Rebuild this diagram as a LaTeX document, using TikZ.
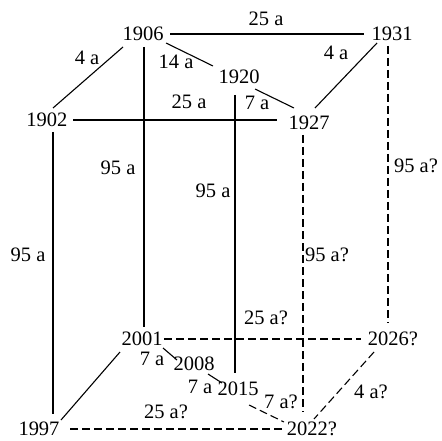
\documentclass[tikz,border=0pt]{standalone}
\usepackage{fontspec}
\setmainfont{Liberation Serif}
\usetikzlibrary{calc}
\begin{document}
\begin{tikzpicture}[x=1pt,y=-1pt,
  yr/.style={font=\fontsize{20.5}{24}\selectfont, inner sep=0pt},
  lb/.style={font=\fontsize{20.5}{24}\selectfont, inner sep=0pt},
  ln/.style={line width=1.1pt},
  dl/.style={line width=1.1pt, dash pattern=on 8pt off 4pt}]
\useasboundingbox (0,0) rectangle (442,441);
% year nodes
\node[yr] (n1906) at (143,34) {1906};
\node[yr] (n1931) at (392,34) {1931};
\node[yr] (n1902) at (47,120) {1902};
\node[yr] (n1920) at (239,77) {1920};
\node[yr] (n1927) at (309,123) {1927};
\node[yr] (n2001) at (142,339) {2001};
\node[yr] (n2008) at (194,364) {2008};
\node[yr] (n2015) at (238,389) {2015};
\node[yr] (n2026) at (393,339) {2026?};
\node[yr] (n1997) at (39,429) {1997};
\node[yr] (n2022) at (312,429) {2022?};
% solid connectors
\draw[ln] ($(n1906.center)+(27,0)$) -- ($(n1931.center)+(-28,0)$);
\draw[ln] ($(n1906.center)+(-20,13)$) -- ($(n1902.center)+(6,-12)$);
\draw[ln] ($(n1906.center)+(23,9)$) -- ($(n1920.center)+(-26,-11)$);
\draw[ln] ($(n1920.center)+(16,12)$) -- ($(n1927.center)+(-15,-15)$);
\draw[ln] ($(n1931.center)+(-15,9)$) -- ($(n1927.center)+(6,-15)$);
\draw[ln] ($(n1902.center)+(26,0)$) -- ($(n1927.center)+(-32,-3)$);
\draw[ln] ($(n1906.center)+(1,13)$) -- ($(n2001.center)+(2,-12)$);
\draw[ln] ($(n1902.center)+(6,12)$) -- ($(n1997.center)+(14,-15)$);
\draw[ln] ($(n1920.center)+(-4,18)$) -- ($(n2015.center)+(-3,-16)$);
\draw[ln] ($(n2001.center)+(21,9)$) -- ($(n2008.center)+(-17,-4)$);
\draw[ln] ($(n2008.center)+(14,10)$) -- ($(n2015.center)+(-16,-6)$);
\draw[ln] ($(n2001.center)+(-22,13)$) -- ($(n1997.center)+(22,-9)$);
% dashed connectors
\draw[dl] ($(n1927.center)+(-6,12)$) -- ($(n2022.center)+(-9,-17)$);
\draw[dl] ($(n1931.center)+(-4,12)$) -- ($(n2026.center)+(-5,-16)$);
\draw[dl] ($(n2001.center)+(22,0)$) -- ($(n2026.center)+(-32,0)$);
\draw[dl] ($(n2015.center)+(11,16)$) -- ($(n2022.center)+(-28,-7)$);
\draw[dl] ($(n2026.center)+(-19,13)$) -- ($(n2022.center)+(2,-10)$);
\draw[dl] ($(n1997.center)+(31,0)$) -- ($(n2022.center)+(-29,0)$);
% labels
\node[lb] (l1) at (266,19) {25 a};
\node[lb] (l2) at (87,58) {4 a};
\node[lb] (l3) at (176,62) {14 a};
\node[lb] (l4) at (336,53) {4 a};
\node[lb] (l5) at (189,102) {25 a};
\node[lb] (l6) at (257,103) {7 a};
\node[lb] (l7) at (118,168) {95 a};
\node[lb] (l8) at (213,191) {95 a};
\node[lb] (l9) at (28,255) {95 a};
\node[lb] (l10) at (327,255) {95 a?};
\node[lb] (l11) at (416,166) {95 a?};
\node[lb] (l12) at (266,318) {25 a?};
\node[lb] (l13) at (152,359) {7 a};
\node[lb] (l14) at (200,387) {7 a};
\node[lb] (l15) at (281,402) {7 a?};
\node[lb] (l16) at (371,392) {4 a?};
\node[lb] (l17) at (166,412) {25 a?};
\end{tikzpicture}
\end{document}
